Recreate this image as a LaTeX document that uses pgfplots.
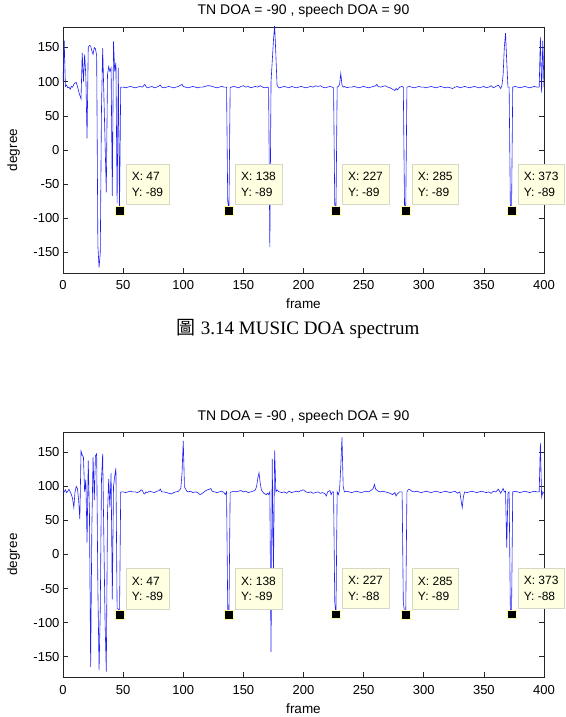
\documentclass[border=0pt]{standalone}
\usepackage{fontspec}
\setmainfont{Liberation Sans}
\newfontfamily\serifcap{Liberation Serif}
\newfontfamily\cjk{Noto Sans CJK TC}
\usepackage{pgfplots}
\pgfplotsset{compat=1.18}
\definecolor{tipfill}{RGB}{255,255,225}
\definecolor{tipedge}{RGB}{215,215,200}
\definecolor{linecol}{RGB}{30,30,245}
\tikzset{
  tip/.style={fill=tipfill, draw=tipedge, line width=0.5pt, anchor=south west, align=left,
    font=\fontsize{12}{15.7}\selectfont, inner xsep=6pt, inner ysep=8pt, xshift=6pt, yshift=6pt},
}
\pgfplotsset{
  doa/.style={
    scale only axis, width=481pt, height=246pt,
    xmin=0, xmax=400, ymin=-180, ymax=180,
    clip mode=individual,
    xtick={0,50,...,400}, ytick={-150,-100,...,150},
    tick align=inside, major tick length=5pt,
    axis line style={line width=0.8pt, black!85},
    tick style={line width=0.6pt, black!85},
    /pgf/number format/assume math mode=true,
    ticklabel style={font=\fontsize{13}{15}\selectfont},
    xticklabel style={anchor=base, yshift=-17pt},
    title={TN DOA = -90 , speech DOA = 90},
    title style={font=\fontsize{14}{16}\selectfont, at={(axis description cs:0.5,1)}, anchor=base, yshift=6pt},
    xlabel={frame},
    xlabel style={font=\fontsize{13.5}{16}\selectfont, at={(axis description cs:0.5,0)}, anchor=base, yshift=-36pt},
    ylabel={degree},
    ylabel style={font=\fontsize{13.5}{16}\selectfont, at={(axis description cs:-0.0956,0.5)}, anchor=base},
  },
}
\begin{document}
\begin{tikzpicture}
\path[use as bounding box] (0,0) rectangle (565pt,717pt);
% ---------------- top plot ----------------
\begin{axis}[doa, at={(63pt,444pt)}, anchor=south west]
\addplot[linecol, line width=0.6pt] table {
0 100
1 160
2 93
3 95
4 91
5 92
6 89
7 93
8 92
9 96
10 98
11 99
12 93
13 86
14 80
15 75
16 142
17 100
18 140
19 108
20 17
21 150
22 153
23 152
24 145
25 140
26 150
27 148
28 138
29 -140
30 -172
31 -150
32 60
33 149
34 80
35 10
36 -62
37 110
38 122
39 115
40 120
41 -67
42 159
43 115
44 128
45 -78
46 120
47 -89
48 92
50 92
52 91
54 92
56 93
58 92
60 91
62 92
64 93
66 92
67 94
68 96
69 93
70 91
72 92
74 93
76 91
78 92
80 94
81 95
82 92
84 91
86 92
88 93
90 92
92 91
94 92
96 93
98 95
99 96
100 93
102 92
104 91
106 92
108 93
110 92
112 91
114 92
116 92
118 93
120 94
122 94
124 93
126 92
128 91
130 92
132 93
134 92
136 92
137 -75
138 -89
139 91
140 92
142 93
144 92
146 91
148 93
150 94
152 92
154 93
156 91
158 92
160 93
162 92
164 94
166 92
168 91
170 92
171 91
172 -142
173 100
174 130
175 160
176 183
177 140
178 95
179 92
180 91
182 92
184 93
186 92
188 91
190 93
192 92
194 91
196 92
198 93
200 92
202 91
204 92
206 93
208 92
210 94
212 93
214 94
216 92
218 91
220 92
222 93
224 92
225 91
226 -80
227 -89
228 92
229 93
230 96
231 112
232 95
233 92
234 93
236 91
238 92
240 92
242 93
244 92
246 91
248 92
250 93
252 92
254 91
256 92
258 93
260 94
261 96
262 93
264 92
266 93
268 94
270 92
272 91
274 89
276 87
277 90
278 88
280 92
282 93
283 92
284 -80
285 -89
286 92
288 93
290 92
292 91
294 92
296 93
298 92
300 92
302 91
304 92
306 93
308 92
310 91
312 92
314 93
316 92
318 91
320 92
322 91
324 90
326 92
328 93
330 91
332 92
334 93
336 92
338 91
340 92
342 93
344 92
346 91
348 92
350 93
352 91
354 92
356 94
358 91
360 93
362 95
364 90
365 94
366 110
367 150
368 171
369 130
370 92
371 92
372 -80
373 -89
374 92
376 93
378 92
380 91
382 92
384 93
386 92
388 91
390 92
392 93
394 92
396 92
397 165
398 84
399 160
400 92
};
\addplot[only marks, mark=square*, mark size=4.3pt, mark options={fill=black, draw=tipfill!70!yellow, line width=0.6pt}] coordinates {
(47,-89) (138,-89) (227,-89) (285,-89) (373,-89)};
\node[tip] at (axis cs:47,-89) {X: 47\\Y: -89};
\node[tip] at (axis cs:138,-89) {X: 138\\Y: -89};
\node[tip] at (axis cs:227,-89) {X: 227\\Y: -89};
\node[tip] at (axis cs:285,-89) {X: 285\\Y: -89};
\node[tip] at (axis cs:373,-89) {X: 373\\Y: -89};
\end{axis}
% caption
\node[anchor=base, font=\fontsize{19}{22}\selectfont] at (298pt,382pt) {{\cjk 圖}\ {\serifcap 3.14 MUSIC DOA spectrum}};
% ---------------- bottom plot ----------------
\begin{axis}[doa, height=245pt, at={(63pt,40pt)}, anchor=south west]
\addplot[linecol, line width=0.6pt] table {
0 93
1 92
2 95
3 91
4 93
5 96
6 92
7 88
8 82
9 69
10 92
11 100
12 97
13 80
14 52
15 152
16 146
17 143
18 92
19 110
20 18
21 138
22 60
23 -165
24 40
25 143
26 80
27 145
28 148
29 -50
30 -170
31 -80
32 110
33 148
34 20
35 -100
36 -172
37 60
38 111
39 69
40 120
41 -66
42 100
43 115
44 127
45 -80
46 -80
47 -89
48 92
50 92
52 91
54 92
56 93
58 92
60 92
62 91
64 93
65 95
66 94
67 90
68 89
69 92
70 91
72 93
74 92
76 91
78 93
80 94
81 96
82 92
84 92
86 91
88 90
90 89
92 91
94 92
96 93
97 95
98 97
99 120
100 167
101 100
102 96
103 93
104 92
106 93
108 91
110 92
112 91
114 88
116 90
118 93
120 95
122 96
123 97
124 93
126 92
128 91
130 92
132 93
134 91
135 88
136 92
137 -80
138 -89
139 91
140 92
142 93
144 92
146 93
148 94
150 92
152 93
154 91
156 92
158 93
160 95
161 100
162 112
163 120
164 105
165 95
166 92
167 90
168 89
169 88
170 90
171 88
172 92
173 -143
174 140
175 -30
176 153
177 92
178 95
179 93
180 92
182 91
184 92
186 90
188 93
190 91
192 92
194 93
196 92
198 94
200 95
202 92
204 91
206 92
208 90
210 91
212 92
214 90
216 91
218 89
219 86
220 92
222 94
223 88
224 92
225 92
226 -70
227 -88
228 92
229 88
230 95
231 130
232 172
233 100
234 92
236 93
238 92
240 91
242 92
244 93
246 92
248 91
250 92
252 93
254 92
256 94
258 97
259 103
260 96
262 93
264 92
266 93
268 92
270 91
272 90
274 88
276 91
277 86
278 89
280 92
282 92
283 -70
284 -85
285 -89
286 92
287 95
288 96
290 93
292 92
294 93
296 92
298 91
300 92
302 93
304 92
306 91
308 92
310 93
312 92
314 91
316 92
318 93
320 92
322 91
324 92
326 93
328 90
330 92
331 80
332 69
333 85
334 92
336 91
338 92
340 93
342 92
344 91
346 92
348 93
350 92
352 91
354 92
356 90
358 93
360 92
362 96
364 90
366 97
367 92
368 93
369 10
370 90
371 92
372 -80
373 -88
374 92
376 93
378 92
380 91
382 92
384 93
386 92
388 91
390 92
392 93
394 92
396 92
397 164
398 84
399 92
400 90
};
\addplot[only marks, mark=square*, mark size=4.3pt, mark options={fill=black, draw=tipfill!70!yellow, line width=0.6pt}] coordinates {
(47,-89) (138,-89) (227,-88) (285,-89) (373,-88)};
\node[tip] at (axis cs:47,-89) {X: 47\\Y: -89};
\node[tip] at (axis cs:138,-89) {X: 138\\Y: -89};
\node[tip] at (axis cs:227,-88) {X: 227\\Y: -88};
\node[tip] at (axis cs:285,-89) {X: 285\\Y: -89};
\node[tip] at (axis cs:373,-88) {X: 373\\Y: -88};
\end{axis}
\end{tikzpicture}
\end{document}
